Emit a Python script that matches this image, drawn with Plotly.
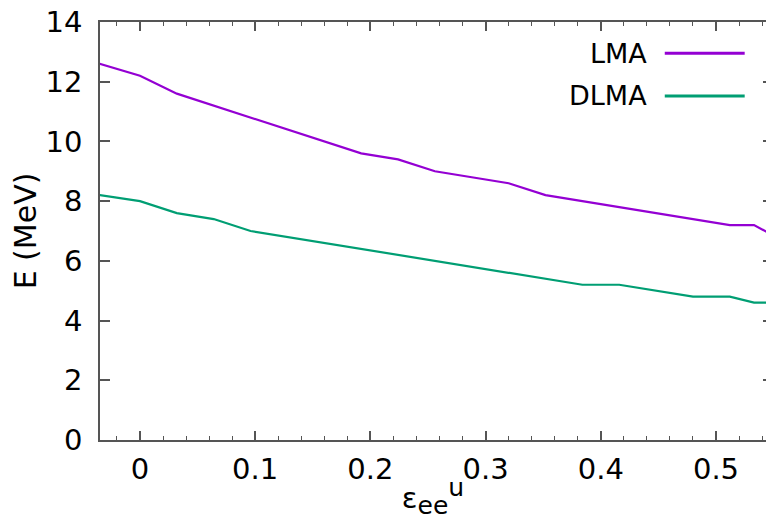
import plotly.graph_objects as go

# Data
x_vals = [-0.035, 0.0, 0.032, 0.064, 0.096, 0.128, 0.160, 0.192, 0.224, 0.256,
          0.288, 0.320, 0.352, 0.384, 0.416, 0.448, 0.480, 0.512, 0.533, 0.545]
lma = [12.6, 12.2, 11.6, 11.2, 10.8, 10.4, 10.0, 9.6, 9.4, 9.0,
       8.8, 8.6, 8.2, 8.0, 7.8, 7.6, 7.4, 7.2, 7.2, 6.95]
dlma = [8.2, 8.0, 7.6, 7.4, 7.0, 6.8, 6.6, 6.4, 6.2, 6.0,
        5.8, 5.6, 5.4, 5.2, 5.2, 5.0, 4.8, 4.8, 4.6, 4.6]
series_names = ["LMA", "DLMA"]
series_colors = ["#9400D3", "#009E73"]
x_ticks = [0, 0.1, 0.2, 0.3, 0.4, 0.5]
x_ticklabels = ["0", "0.1", "0.2", "0.3", "0.4", "0.5"]
y_ticks = [0, 2, 4, 6, 8, 10, 12, 14]

FONT = "DejaVu Sans"
FS = 29
AX = "#555555"

fig = go.Figure()
for name, ys, col in zip(series_names, [lma, dlma], series_colors):
    fig.add_trace(go.Scatter(x=x_vals, y=ys, mode="lines", name=name,
                             line=dict(color=col, width=2.2), showlegend=False,
                             cliponaxis=True))

# invisible trace so the right-side tick stubs axis renders
fig.add_trace(go.Scatter(x=[x_vals[0]], y=[lma[0]], yaxis="y2", mode="lines",
                         showlegend=False, hoverinfo="skip",
                         line=dict(color="rgba(0,0,0,0)")))

xtitle = ("ε<sub><span style='font-size:25px'>ee</span></sub>"
          "<sup><span style='font-size:25px'>u</span></sup>")

fig.update_layout(
    width=766, height=520,
    margin=dict(l=100, r=0, t=22, b=80),
    paper_bgcolor="white", plot_bgcolor="white",
    font=dict(family=FONT, size=FS, color="black"),
    xaxis=dict(range=[-0.0347, 0.5434], tickvals=x_ticks, ticktext=x_ticklabels,
               ticks="inside", ticklen=9, tickwidth=1.5, tickcolor=AX,
               showline=True, linecolor=AX, linewidth=1.5, mirror="ticks",
               showgrid=False, zeroline=False, ticklabelstandoff=2,
               minor=dict(dtick=0.02, tick0=0, ticks="inside", ticklen=4.5,
                          tickwidth=1.2, tickcolor=AX, showgrid=False),
               title=dict(text=xtitle, standoff=8,
                          font=dict(family=FONT, size=FS))),
    yaxis=dict(range=[0, 14], tickvals=y_ticks, ticks="inside", ticklen=10,
               tickwidth=1.5, tickcolor=AX, showline=True, linecolor=AX,
               linewidth=1.5, showgrid=False, zeroline=False,
               ticklabelstandoff=10,
               title=dict(text="E (MeV)", standoff=0,
                          font=dict(family=FONT, size=30))),
    yaxis2=dict(range=[0, 14], overlaying="y", side="right", tickvals=y_ticks,
                ticks="inside", ticklen=3, tickwidth=1.5, tickcolor=AX,
                showticklabels=False, showline=False, showgrid=False,
                zeroline=False),
)

# gnuplot-style key: text right-aligned, then line sample
key_y = [0.925, 0.823]
for name, col, ky in zip(series_names, series_colors, key_y):
    fig.add_annotation(x=0.824, y=ky, xref="paper", yref="paper", text=name,
                       showarrow=False, xanchor="right", yanchor="middle",
                       font=dict(family=FONT, size=27))
    fig.add_shape(type="line", xref="paper", yref="paper", x0=0.848, x1=0.968,
                  y0=ky, y1=ky, line=dict(color=col, width=3))

fig.write_html("out.html")
